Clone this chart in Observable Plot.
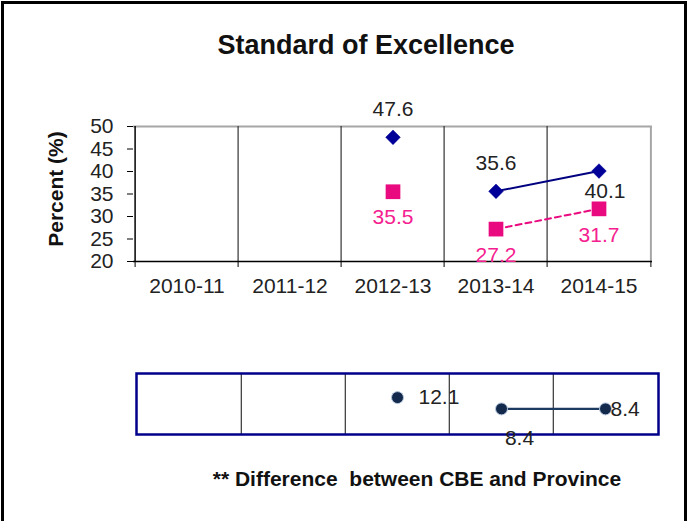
<!DOCTYPE html>
<html>
<head>
<meta charset="utf-8">
<script src="https://cdn.jsdelivr.net/npm/d3@7"></script>
<script src="https://cdn.jsdelivr.net/npm/@observablehq/plot@0.6"></script>
<style>
  body { margin: 0; background: #fff; font-family: "Liberation Sans", Arial, sans-serif; }
  #wrap { position: relative; width: 691px; height: 521px; overflow: hidden; background: #fff; }
  #border { position: absolute; left: 1px; top: 1px; width: 680px; height: 540px; border: 3px solid #000; }
  #title { position: absolute; left: 0; width: 732px; top: 30px; text-align: center; font-weight: bold; font-size: 27px; color: #111; }
  #ylabel { position: absolute; left: 56px; top: 189px; transform: translate(-50%, -50%) rotate(-90deg); font-weight: bold; font-size: 21px; color: #111; white-space: nowrap; }
  #foot { position: absolute; left: 0; width: 834px; top: 467px; text-align: center; font-weight: bold; font-size: 21px; color: #111; white-space: pre; }
  .plot { position: absolute; left: 0; }
</style>
</head>
<body>
<div id="wrap">
  <div id="border"></div>
  <div id="title">Standard of Excellence</div>
  <div id="ylabel">Percent (%)</div>
  <div id="p1" class="plot" style="top:0"></div>
  <div id="p2" class="plot" style="top:350px"></div>
  <div id="foot">** Difference  between CBE and Province</div>
</div>
<script>
const years = ["2010-11", "2011-12", "2012-13", "2013-14", "2014-15"];
const cbe = [null, null, 47.6, 35.6, 40.1];
const province = [null, null, 35.5, 27.2, 31.7];
const difference = [null, null, 12.1, 8.4, 8.4];
const yTicks = [20, 25, 30, 35, 40, 45, 50];
const trendFrom = "2013-14";

const rows = years.map((year, i) => ({year, cbe: cbe[i], province: province[i], difference: difference[i]}));
const trendRows = rows.slice(years.indexOf(trendFrom));
const lastYear = years[years.length - 1];
const font = "'Liberation Sans', Arial, sans-serif";

// ---- Top chart ----
const W = 691, H1 = 310, ml1 = 133, mr1 = 39, mt1 = 126, mb1 = 49;
const bw1 = (W - ml1 - mr1) / years.length;
const navy = "#000099", pink = "#ea0a80", pinkText = "#f5208f";

const cbeRows = rows.filter(d => d.cbe != null);
const provRows = rows.filter(d => d.province != null);

const p1 = Plot.plot({
  width: W, height: H1,
  marginLeft: ml1, marginRight: mr1, marginTop: mt1, marginBottom: mb1,
  style: {fontFamily: font, fontSize: "21px", color: "#222", background: "transparent", overflow: "visible"},
  x: {type: "band", domain: years, padding: 0, label: null},
  y: {domain: [20, 50], label: null},
  marks: [
    Plot.ruleY([50], {stroke: "#a6a6a6", strokeWidth: 2}),
    Plot.ruleX([lastYear], {dx: bw1 / 2, stroke: "#a6a6a6", strokeWidth: 2}),
    Plot.ruleX(years.slice(1), {dx: -bw1 / 2, stroke: "#333", strokeWidth: 1.2}),
    Plot.ruleX([years[0]], {dx: -bw1 / 2, stroke: "#000", strokeWidth: 1.5}),
    Plot.ruleY([20], {stroke: "#000", strokeWidth: 1.5}),
    Plot.axisY({ticks: yTicks, tickSize: 6, tickPadding: 14, fontSize: 21, label: null, stroke: "#000", fill: "#222"}),
    Plot.axisX({tickSize: 6, dx: -bw1 / 2, tickFormat: () => "", label: null, stroke: "#000"}),
    Plot.axisX({ticks: [lastYear], tickSize: 6, dx: bw1 / 2, tickFormat: () => "", label: null, stroke: "#000"}),
    Plot.axisX({tickSize: 0, tickPadding: 17, fontSize: 21, label: null, fill: "#222"}),
    Plot.line(trendRows, {x: "year", y: "cbe", stroke: "#000080", strokeWidth: 2}),
    Plot.line(trendRows, {x: "year", y: "province", stroke: pink, strokeWidth: 2, strokeDasharray: "6,4"}),
    Plot.dot(cbeRows, {x: "year", y: "cbe", symbol: "diamond2", r: 6.6, fill: navy, stroke: navy, strokeWidth: 0.5}),
    Plot.dot(provRows, {x: "year", y: "province", symbol: "square", r: 8.3, fill: pink, stroke: "none"}),
    Plot.text(cbeRows.filter(d => d.year !== lastYear), {x: "year", y: "cbe", text: d => d.cbe.toFixed(1), dy: -28, fontSize: 21, fill: "#222"}),
    Plot.text(cbeRows.filter(d => d.year === lastYear), {x: "year", y: "cbe", text: d => d.cbe.toFixed(1), dy: 20, dx: 6, fontSize: 21, fill: "#222"}),
    Plot.text(provRows, {x: "year", y: "province", text: d => d.province.toFixed(1), dy: 26, fontSize: 21, fill: pinkText})
  ]
});
document.getElementById("p1").appendChild(p1);

// ---- Bottom chart (difference) ----
const H2 = 110, ml2 = 136, mr2 = 33, mt2 = 23, mb2 = 26;
const bw2 = (W - ml2 - mr2) / years.length;
const diffRows = rows.filter(d => d.difference != null);
const dotFill = "#132a4c";

const p2 = Plot.plot({
  width: W, height: H2,
  marginLeft: ml2, marginRight: mr2, marginTop: mt2, marginBottom: mb2,
  style: {fontFamily: font, fontSize: "21px", color: "#222", background: "transparent", overflow: "visible"},
  x: {type: "band", domain: years, padding: 0, label: null, axis: null},
  y: {domain: [0, 20], label: null, axis: null},
  marks: [
    Plot.ruleX(years.slice(1), {dx: -bw2 / 2, stroke: "#333", strokeWidth: 1.2}),
    Plot.frame({stroke: "#00008b", strokeWidth: 2.5}),
    Plot.line(trendRows, {x: "year", y: "difference", stroke: "#1d3a60", strokeWidth: 2.2}),
    Plot.dot(diffRows, {x: "year", y: "difference", r: 6, fill: dotFill, stroke: "#b8c8e0", strokeWidth: 1}),
    Plot.text(diffRows.filter(d => d.year < trendFrom), {x: "year", y: "difference", text: d => d.difference.toFixed(1), dx: 21, textAnchor: "start", fontSize: 21, fill: "#222"}),
    Plot.text(diffRows.filter(d => d.year === trendFrom), {x: "year", y: "difference", text: d => d.difference.toFixed(1), dx: 18, dy: 29, fontSize: 21, fill: "#222"}),
    Plot.text(diffRows.filter(d => d.year === lastYear), {x: "year", y: "difference", text: d => d.difference.toFixed(1), dx: 5, textAnchor: "start", fontSize: 21, fill: "#222"})
  ]
});
document.getElementById("p2").appendChild(p2);
</script>
</body>
</html>
